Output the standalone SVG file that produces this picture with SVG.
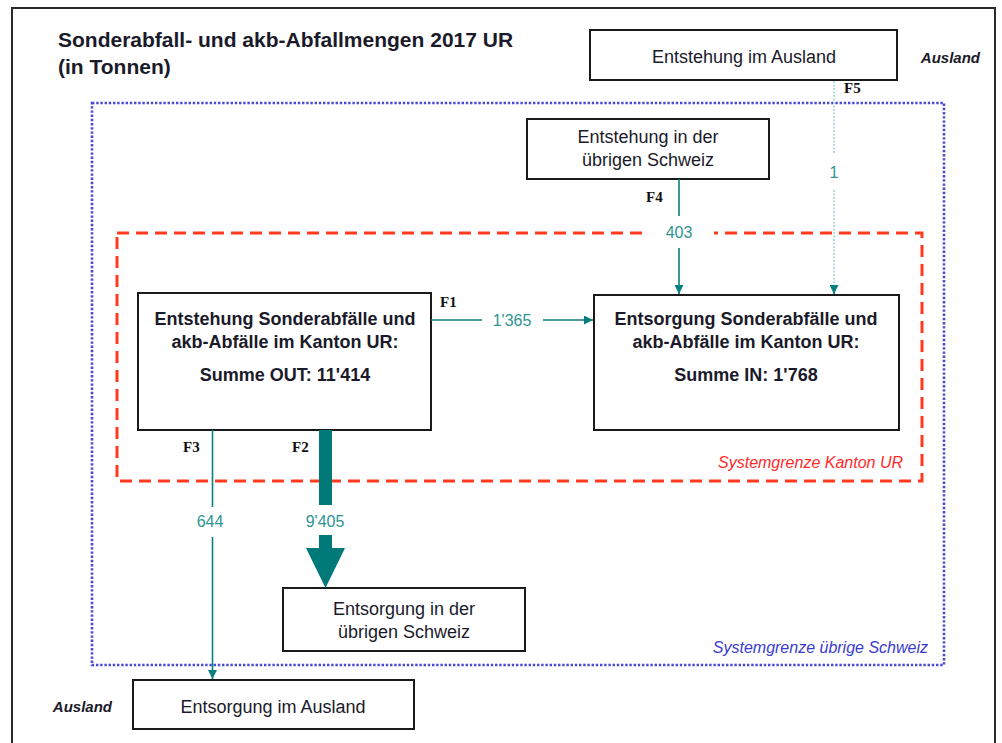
<svg xmlns="http://www.w3.org/2000/svg" width="1002" height="743" viewBox="0 0 1002 743">
<style>
.box{fill:#fff;stroke:#1a1a1a;stroke-width:2}
.t{font-family:"Liberation Sans",Arial,sans-serif;font-size:18px;fill:#1a1a2a;text-anchor:middle}
.b{font-weight:bold}
.f{font-family:"Liberation Serif","Times New Roman",serif;font-size:15px;font-weight:bold;fill:#111}
.v{font-family:"Liberation Sans",Arial,sans-serif;font-size:16px;fill:#2e9494;text-anchor:middle}
.fl{stroke:#0a7f7f;stroke-width:1.6;fill:none}
.ital{font-family:"Liberation Sans",Arial,sans-serif;font-style:italic}
</style>
<defs>
<marker id="ah" markerUnits="userSpaceOnUse" markerWidth="9" markerHeight="9" refX="9" refY="4.5" orient="auto">
<path d="M0,0 L9,4.5 L0,9 z" fill="#0a7f7f"/>
</marker>
</defs>
<rect x="12" y="8" width="983" height="745" fill="#fff" stroke="#2a2a2a" stroke-width="2"/>
<g id="title">
<text x="58" y="47" font-family="'Liberation Sans',Arial,sans-serif" font-size="21" font-weight="bold" fill="#1a1a2a">Sonderabfall- und akb-Abfallmengen 2017 UR</text>
<text x="58" y="74" font-family="'Liberation Sans',Arial,sans-serif" font-size="21" font-weight="bold" fill="#1a1a2a">(in Tonnen)</text>
</g>
<g id="boundaries">
<rect x="92" y="103" width="852" height="562" fill="none" stroke="#4a4ad8" stroke-width="2.6" stroke-dasharray="2.4 1.8"/>
<rect x="117" y="233" width="805" height="248" fill="none" stroke="#ff3a1e" stroke-width="3" stroke-dasharray="12 7"/>
<rect x="646" y="228" width="68" height="10" fill="#fff"/>
<text class="ital" x="903" y="468" font-size="16" fill="#ff2a2a" text-anchor="end">Systemgrenze Kanton UR</text>
<text class="ital" x="928" y="653" font-size="16" fill="#3a3ad0" text-anchor="end">Systemgrenze übrige Schweiz</text>
<text class="ital" x="980" y="63" font-size="15" font-weight="bold" fill="#1a1a2a" text-anchor="end">Ausland</text>
<text class="ital" x="112" y="712" font-size="15" font-weight="bold" fill="#1a1a2a" text-anchor="end">Ausland</text>
</g>
<g id="n-ausland-entstehung">
<rect class="box" x="590" y="30" width="307" height="50"/>
<text class="t" x="744" y="63">Entstehung im Ausland</text>
</g>
<g id="n-schweiz-entstehung">
<rect class="box" x="527" y="119" width="242" height="60"/>
<text class="t" x="648" y="143">Entstehung in der</text>
<text class="t" x="648" y="166">übrigen Schweiz</text>
</g>
<g id="n-ur-entstehung">
<rect class="box" x="138" y="293" width="293" height="137"/>
<text class="t b" x="285" y="325">Entstehung Sonderabfälle und</text>
<text class="t b" x="285" y="348">akb-Abfälle im Kanton UR:</text>
<text class="t b" x="285" y="381">Summe OUT: 11'414</text>
</g>
<g id="n-ur-entsorgung">
<rect class="box" x="594" y="295" width="305" height="135"/>
<text class="t b" x="746" y="325">Entsorgung Sonderabfälle und</text>
<text class="t b" x="746" y="348">akb-Abfälle im Kanton UR:</text>
<text class="t b" x="746" y="381">Summe IN: 1'768</text>
</g>
<g id="n-schweiz-entsorgung">
<rect class="box" x="283" y="588" width="242" height="63"/>
<text class="t" x="404" y="615">Entsorgung in der</text>
<text class="t" x="404" y="638">übrigen Schweiz</text>
</g>
<g id="n-ausland-entsorgung">
<rect class="box" x="133" y="680" width="281" height="49"/>
<text class="t" x="273" y="713">Entsorgung im Ausland</text>
</g>
<g id="connectors">
<!-- F1 -->
<line class="fl" x1="431" y1="320" x2="482" y2="320"/>
<line class="fl" x1="543" y1="320" x2="593" y2="320" marker-end="url(#ah)"/>
<text class="f" x="440" y="307">F1</text>
<text class="v" x="512" y="326">1'365</text>
<!-- F4 -->
<line class="fl" x1="679" y1="179" x2="679" y2="216"/>
<line class="fl" x1="679" y1="248" x2="679" y2="294" marker-end="url(#ah)"/>
<text class="f" x="646" y="202">F4</text>
<text class="v" x="679" y="238">403</text>
<!-- F5 -->
<line x1="834" y1="81" x2="834" y2="153" stroke="#b9dcdc" stroke-width="2" stroke-dasharray="2 1.5"/>
<line x1="834" y1="190" x2="834" y2="287" stroke="#b9dcdc" stroke-width="2" stroke-dasharray="2 1.5"/>
<line class="fl" x1="834" y1="286" x2="834" y2="294" marker-end="url(#ah)" stroke-width="0.5"/>
<text class="f" x="844" y="93">F5</text>
<text class="v" x="834" y="178">1</text>
<!-- F3 -->
<line class="fl" x1="212.5" y1="430" x2="212.5" y2="507"/>
<line class="fl" x1="212.5" y1="537" x2="212.5" y2="679" marker-end="url(#ah)"/>
<text class="f" x="183" y="452">F3</text>
<text class="v" x="210" y="527">644</text>
<!-- F2 -->
<rect x="319" y="430" width="13" height="75" fill="#007a78"/>
<rect x="319" y="535" width="13" height="14" fill="#007a78"/>
<polygon points="306,548 345,548 325.5,588" fill="#007a78"/>
<text class="f" x="292" y="452">F2</text>
<text class="v" x="325" y="527">9'405</text>
</g>
</svg>
